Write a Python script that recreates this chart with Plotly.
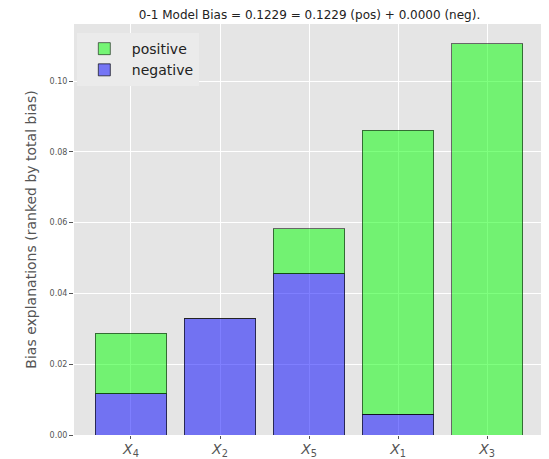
import plotly.graph_objects as go

features = ["X4", "X2", "X5", "X1", "X3"]
tick_labels = ["<i>X</i><sub>4</sub>", "<i>X</i><sub>2</sub>", "<i>X</i><sub>5</sub>",
               "<i>X</i><sub>1</sub>", "<i>X</i><sub>3</sub>"]
negative = [0.0117, 0.0329, 0.0456, 0.0058, 0.0]
positive = [0.0170, 0.0, 0.0127, 0.0803, 0.1106]
y_ticks = [0.00, 0.02, 0.04, 0.06, 0.08, 0.10]
title = "0-1 Model Bias = 0.1229 = 0.1229 (pos) + 0.0000 (neg)."

totals = [a + b for a, b in zip(negative, positive)]
ymax = max(totals) * 1.05

# The page body has an 8px default margin, so the figure is sized to fit the window.
W, H = 541, 451
ML, MR, MT, MB = 66, 4, 16, 24

fig = go.Figure()
fig.add_trace(go.Bar(
    x=features, y=negative, name="negative", width=0.8,
    marker=dict(color="rgba(0,0,255,0.5)", line=dict(color="rgba(0,0,0,0.65)", width=1)),
))
fig.add_trace(go.Bar(
    x=features, y=positive, name="positive", width=0.8,
    marker=dict(color="rgba(0,255,0,0.5)", line=dict(color="rgba(0,0,0,0.55)", width=1)),
))

fig.update_layout(
    width=W, height=H,
    barmode="stack",
    paper_bgcolor="white",
    plot_bgcolor="#E5E5E5",
    margin=dict(l=ML, r=MR, t=MT, b=MB, autoexpand=False),
    font=dict(family="DejaVu Sans", color="#555555"),
    title=dict(text=title, x=(ML + (W - MR)) / 2 / W, xanchor="center", y=0.995, yanchor="top",
               font=dict(size=12, color="#222222", family="DejaVu Sans")),
    legend=dict(x=0.006, y=0.978, xanchor="left", yanchor="top",
                bgcolor="#EBEBEB", traceorder="reversed",
                font=dict(size=14, color="#222222", family="DejaVu Sans"),
                itemwidth=45),
    showlegend=True,
    bargap=0.2,
)
fig.update_xaxes(
    tickmode="array", tickvals=features, ticktext=tick_labels,
    range=[-0.64, 4.65], automargin=False,
    showgrid=True, gridcolor="white", gridwidth=1,
    ticks="outside", ticklen=3, tickcolor="#555555",
    ticklabelstandoff=-2,
    tickfont=dict(size=14, color="#555555", family="DejaVu Sans"),
    zeroline=False, showline=False,
)
fig.update_yaxes(
    tickmode="array", tickvals=y_ticks, ticktext=[f"{v:.2f}" for v in y_ticks],
    range=[0, ymax], automargin=False,
    showgrid=True, gridcolor="white", gridwidth=1,
    ticks="outside", ticklen=4, tickcolor="#555555",
    tickfont=dict(size=8, color="#555555", family="DejaVu Sans"),
    title=dict(text="Bias explanations (ranked by total bias)", standoff=9,
               font=dict(size=14, color="#555555", family="DejaVu Sans")),
    zeroline=False, showline=False,
)

fig.write_html("out.html")
